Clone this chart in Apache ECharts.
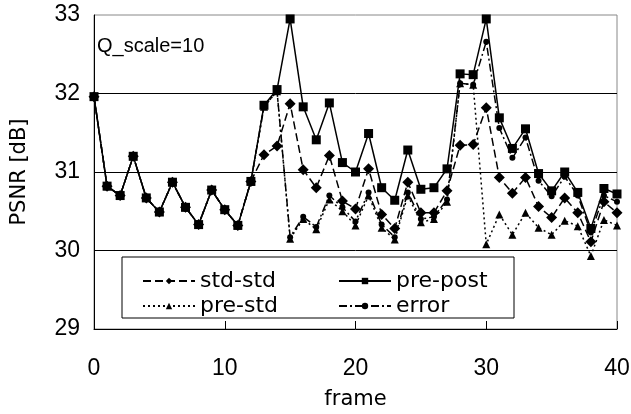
<!DOCTYPE html>
<html><head><meta charset="utf-8">
<script src="https://cdn.jsdelivr.net/npm/echarts@6/dist/echarts.min.js"></script>
<style>html,body{margin:0;padding:0;background:#fff}#c{width:631px;height:414px}</style>
</head><body><div id="c"></div>
<script>
const frames = Array.from({length: 41}, (_, i) => i);
const common = [31.96, 30.82, 30.70, 31.20, 30.67, 30.49, 30.87, 30.55, 30.33, 30.77, 30.52, 30.32, 30.88];
const prePost = common.concat([31.85, 32.05, 32.95, 31.83, 31.41, 31.88, 31.12, 31.00, 31.49, 30.80, 30.64, 31.28, 30.78, 30.80, 31.04, 32.25, 32.24, 32.95, 31.69, 31.30, 31.55, 30.98, 30.76, 31.00, 30.74, 30.28, 30.79, 30.72]);
const stdStd = common.concat([31.22, 31.33, 31.87, 31.03, 30.80, 31.21, 30.63, 30.53, 31.04, 30.46, 30.28, 30.87, 30.48, 30.48, 30.76, 31.34, 31.35, 31.82, 30.93, 30.73, 30.93, 30.56, 30.42, 30.67, 30.48, 30.11, 30.62, 30.48]);
const preStd = common.concat([31.83, 32.03, 30.15, 30.40, 30.27, 30.65, 30.50, 30.32, 30.70, 30.29, 30.14, 30.70, 30.36, 30.40, 30.62, 32.13, 32.11, 30.08, 30.46, 30.20, 30.48, 30.29, 30.20, 30.38, 30.31, 29.93, 30.39, 30.32]);
const errorS = common.concat([31.83, 32.03, 30.17, 30.43, 30.30, 30.70, 30.55, 30.37, 30.74, 30.33, 30.17, 30.74, 30.40, 30.43, 30.65, 32.13, 32.11, 32.66, 31.56, 31.18, 31.44, 30.89, 30.69, 30.94, 30.70, 30.23, 30.70, 30.62]);
const xTicks = [0, 10, 20, 30, 40];
const yTicks = [29, 30, 31, 32, 33];

const pairs = arr => frames.map((f, i) => [f, arr[i]]);
const chart = echarts.init(document.getElementById('c'), null, {renderer: 'canvas'});
const lbl = {fontFamily: 'Liberation Sans, Arial, sans-serif', fontSize: 23, color: '#000'};
const mk = (name, data, sym, size, type) => ({
  name, type: 'line', data: pairs(data), symbol: sym, symbolSize: size,
  lineStyle: {color: '#000', width: 1.5, type: type},
  itemStyle: {color: '#000', borderWidth: 0},
  animation: false
});
chart.setOption({
  animation: false,
  grid: {left: 94, right: 14, top: 15, bottom: 85, show: true, borderColor: '#888', borderWidth: 1,
    containLabel: false, outerBoundsMode: 'none'},
  title: {text: 'Q_scale=10', left: 97, top: 36, padding: 0,
    textStyle: {fontFamily: 'Liberation Sans, Arial, sans-serif', fontSize: 20, fontWeight: 'normal', color: '#000'}},
  xAxis: {type: 'value', min: 0, max: 40, interval: 10, name: 'frame', nameLocation: 'middle', nameGap: 60,
    nameTextStyle: {fontFamily: 'DejaVu Sans, sans-serif', fontSize: 21, color: '#000'},
    axisLine: {lineStyle: {color: '#000', width: 1}},
    axisTick: {inside: true, length: 8, lineStyle: {color: '#000'}},
    axisLabel: Object.assign({margin: 28, formatter: v => xTicks.includes(v) ? String(v) : ''}, lbl),
    splitLine: {show: false}},
  yAxis: {type: 'value', min: 29, max: 33, interval: 1, name: 'PSNR [dB]', nameLocation: 'middle', nameGap: 64,
    nameTextStyle: {fontFamily: 'DejaVu Sans, sans-serif', fontSize: 21, color: '#000'},
    axisLine: {show: true, lineStyle: {color: '#000', width: 1}},
    axisTick: {show: false},
    axisLabel: Object.assign({margin: 14, formatter: v => yTicks.includes(v) ? String(v) : ''}, lbl),
    splitLine: {show: true, showMinLine: false, showMaxLine: false, lineStyle: {color: '#000', width: 1}}},
  legend: [
    {data: ['std-std', 'pre-std'], orient: 'vertical', left: 142, top: 270, padding: 0, itemWidth: 52, itemHeight: 8, itemGap: 3,
     textStyle: {fontFamily: 'DejaVu Sans, sans-serif', fontSize: 22, color: '#000'}},
    {data: ['pre-post', 'error'], orient: 'vertical', left: 338, top: 270, padding: 0, itemWidth: 52, itemHeight: 8, itemGap: 3,
     textStyle: {fontFamily: 'DejaVu Sans, sans-serif', fontSize: 22, color: '#000'}}
  ],
  graphic: [{type: 'rect', shape: {x: 122, y: 257, width: 392, height: 61}, style: {fill: '#fff', stroke: '#000', lineWidth: 1}, z: 3}],
  series: [
    mk('pre-std', preStd, 'triangle', 8, [2, 3]),
    mk('error', errorS, 'circle', 6, [8, 3, 2, 3]),
    mk('std-std', stdStd, 'diamond', 11, [8, 4]),
    mk('pre-post', prePost, 'rect', 9, 'solid')
  ]
});
</script></body></html>
